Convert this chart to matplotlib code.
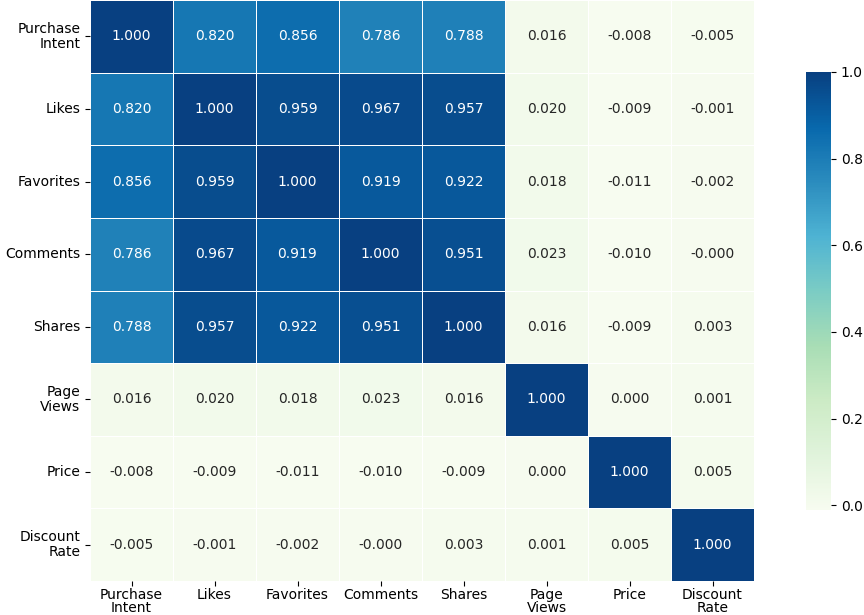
import matplotlib
matplotlib.use('Agg')
import matplotlib.pyplot as plt
import numpy as np
import seaborn as sns

labels = ['Purchase Intent', 'Likes', 'Favorites', 'Comments', 'Shares',
          'Page Views', 'Price', 'Discount Rate']

corr = np.array([
    [1.000, 0.820, 0.856, 0.786, 0.788, 0.016, -0.008, -0.005],
    [0.820, 1.000, 0.959, 0.967, 0.957, 0.020, -0.009, -0.001],
    [0.856, 0.959, 1.000, 0.919, 0.922, 0.018, -0.011, -0.002],
    [0.786, 0.967, 0.919, 1.000, 0.951, 0.023, -0.010, -0.000],
    [0.788, 0.957, 0.922, 0.951, 1.000, 0.016, -0.009, 0.003],
    [0.016, 0.020, 0.018, 0.023, 0.016, 1.000, 0.000, 0.001],
    [-0.008, -0.009, -0.011, -0.010, -0.009, 0.000, 1.000, 0.005],
    [-0.005, -0.001, -0.002, -0.000, 0.003, 0.001, 0.005, 1.000],
])

tick_labels = [s.replace(' ', '\n') for s in labels]

plt.rcParams['font.family'] = ['DejaVu Sans']

fig = plt.figure(figsize=(8.64, 6.15), dpi=100)
W, H = 864, 615
ax = fig.add_axes([90 / W, (H - 581) / H, 664 / W, 581 / H])
cax = fig.add_axes([806 / W, (H - 510) / H, 25 / W, 438 / H])

sns.heatmap(corr, annot=True, fmt='.3f', cmap='GnBu', linewidths=0.6, linecolor='white',
            xticklabels=tick_labels, yticklabels=tick_labels, ax=ax, cbar_ax=cax,
            annot_kws={'fontsize': 10})
ax.tick_params(axis='both', labelsize=10)
ax.tick_params(axis='x', pad=1.5)
plt.setp(ax.get_xticklabels(), rotation=0, linespacing=0.95)
plt.setp(ax.get_yticklabels(), rotation=0, linespacing=1.05)
cax.tick_params(labelsize=10)
cax.set_yticks([0.0, 0.2, 0.4, 0.6, 0.8, 1.0])

fig.savefig('out.png', dpi=100)
